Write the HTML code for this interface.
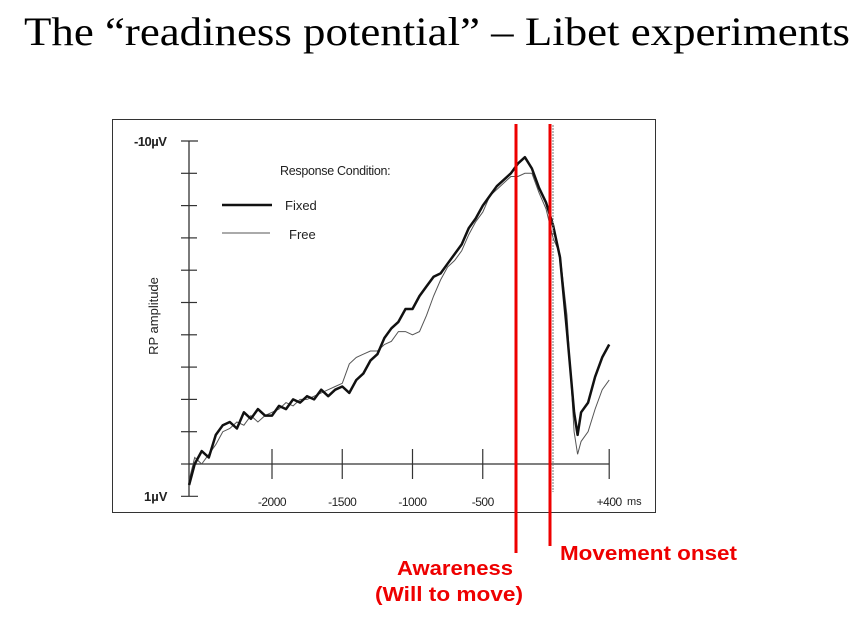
<!DOCTYPE html>
<html><head><meta charset="utf-8"><style>
html,body{margin:0;padding:0;background:#fff;width:865px;height:640px;overflow:hidden}
svg{display:block}
</style></head><body>
<svg id="s" width="865" height="640" viewBox="0 0 865 640">
<text x="24" y="45" font-family="Liberation Serif, serif" font-size="40" textLength="826" lengthAdjust="spacingAndGlyphs" fill="#000">The “readiness potential” – Libet experiments</text>
<rect x="112.5" y="119.5" width="543" height="393" fill="#fff" stroke="#333" stroke-width="1"/>
<g id="plot"></g>
<text x="560" y="560" font-family="Liberation Sans, sans-serif" font-weight="bold" font-size="20" textLength="177" lengthAdjust="spacingAndGlyphs" fill="#e00">Movement onset</text>
<text x="397" y="575" font-family="Liberation Sans, sans-serif" font-weight="bold" font-size="20" textLength="116" lengthAdjust="spacingAndGlyphs" fill="#e00">Awareness</text>
<text x="375" y="601" font-family="Liberation Sans, sans-serif" font-weight="bold" font-size="20" textLength="148" lengthAdjust="spacingAndGlyphs" fill="#e00">(Will to move)</text>
</svg>
<script>
const times=[-2590,-2550,-2500,-2450,-2400,-2350,-2300,-2250,-2200,-2150,-2100,-2050,-2000,-1950,-1900,-1850,-1800,-1750,-1700,-1650,-1600,-1550,-1500,-1450,-1400,-1350,-1300,-1250,-1200,-1150,-1100,-1050,-1000,-950,-900,-850,-800,-750,-700,-650,-600,-550,-500,-450,-400,-350,-300,-250,-200,-150,-100,-50,0,50,100,150,175,200,250,300,350,400];
const fixedVals=[0.65,0.0,-0.4,-0.2,-0.9,-1.2,-1.3,-1.1,-1.6,-1.4,-1.7,-1.5,-1.5,-1.8,-1.7,-2.0,-1.9,-2.1,-2.0,-2.3,-2.1,-2.3,-2.4,-2.2,-2.6,-2.8,-3.2,-3.4,-3.9,-4.2,-4.4,-4.8,-4.8,-5.2,-5.5,-5.8,-5.9,-6.2,-6.5,-6.8,-7.3,-7.6,-8.0,-8.3,-8.6,-8.8,-9.0,-9.3,-9.5,-9.15,-8.55,-8.1,-7.4,-6.4,-4.1,-1.6,-0.9,-1.6,-1.9,-2.7,-3.3,-3.7];
const freeVals=[0.5,-0.2,0.0,-0.3,-0.6,-1.0,-1.1,-1.3,-1.2,-1.5,-1.3,-1.5,-1.6,-1.7,-1.9,-1.8,-2.0,-2.0,-2.1,-2.2,-2.3,-2.4,-2.5,-3.1,-3.3,-3.4,-3.5,-3.5,-3.7,-3.8,-4.1,-4.1,-4.0,-4.1,-4.6,-5.2,-5.7,-6.1,-6.3,-6.6,-7.1,-7.5,-7.8,-8.3,-8.5,-8.7,-8.9,-8.9,-9.0,-9.0,-8.4,-7.9,-7.0,-6.5,-4.6,-1.0,-0.3,-0.7,-1.0,-1.7,-2.3,-2.6];
const xTickVals=[-2000,-1500,-1000,-500,400];
const xTickLabels=["-2000","-1500","-1000","-500","+400"];
const yTickVals=[-10,-9,-8,-7,-6,-5,-4,-3,-2,-1,0,1];
const NS='http://www.w3.org/2000/svg';
const g=document.getElementById('plot');
const X=t=>553+t*0.1405;
const Y=v=>464+v*32.3;
function el(tag,a){const e=document.createElementNS(NS,tag);for(const k in a)e.setAttribute(k,a[k]);g.appendChild(e);return e;}
let e=el('line',{x1:189,y1:Y(-10),x2:189,y2:Y(1),stroke:'#333','stroke-width':1.3});


yTickVals.forEach(v=>{const t=el('line',{x1:181,x2:(v===-10||v===1)?198:197,y1:Y(v),y2:Y(v),stroke:'#333','stroke-width':1.2});

});
e=el('line',{x1:189,y1:Y(0),x2:X(400),y2:Y(0),stroke:'#333','stroke-width':1.2});


xTickVals.forEach((v,i)=>{const t=el('line',{x1:X(v),x2:X(v),y1:Y(0)-15,y2:Y(0)+15,stroke:'#333','stroke-width':1.2});


const l=el('text',{x:X(v),y:Y(0)+42,'text-anchor':'middle','font-family':'Liberation Sans, sans-serif','font-size':12,'letter-spacing':'-0.5',fill:'#222'});l.textContent=xTickLabels[i];

});
function txt(x,y,s,name,extra){const t=el('text',Object.assign({x:x,y:y,'font-family':'Liberation Sans, sans-serif','font-size':12,fill:'#222'},extra||{}));t.textContent=s;

return t;}
txt(627,505,'ms','x-unit-label',{'font-size':11});
txt(134,146,'-10µV','y-top-label',{'font-size':13,'font-weight':'bold','letter-spacing':'-0.5'});
txt(144,501,'1µV','y-bottom-label',{'font-size':13,'font-weight':'bold'});
txt(158,316,'RP amplitude','y-axis-title',{'text-anchor':'middle',transform:'rotate(-90 158 316)','font-size':13});
txt(280,175,'Response Condition:','legend-title',{'font-size':12.5,'letter-spacing':'-0.3'});
e=el('line',{x1:222,x2:272,y1:205,y2:205,stroke:'#111','stroke-width':2.5});


txt(285,210,'Fixed','legend-fixed-label',{'font-size':13});
e=el('line',{x1:222,x2:270,y1:233,y2:233,stroke:'#555','stroke-width':1});


txt(289,239,'Free','legend-free-label',{'font-size':13});
function pts(vals){return times.map((t,i)=>X(t).toFixed(1)+','+Y(vals[i]).toFixed(1)).join(' ');}
e=el('polyline',{points:pts(freeVals),fill:'none',stroke:'#555','stroke-width':1});


e=el('polyline',{points:pts(fixedVals),fill:'none',stroke:'#111','stroke-width':2.5,'stroke-linejoin':'round'});


e=el('line',{x1:X(0),x2:X(0),y1:125,y2:492,stroke:'#777','stroke-width':1,'stroke-dasharray':'2,1'});


e=el('line',{x1:516,x2:516,y1:124,y2:553,stroke:'#e00','stroke-width':3});


e=el('line',{x1:550,x2:550,y1:124,y2:546,stroke:'#e00','stroke-width':3});


</script>
</body></html>
